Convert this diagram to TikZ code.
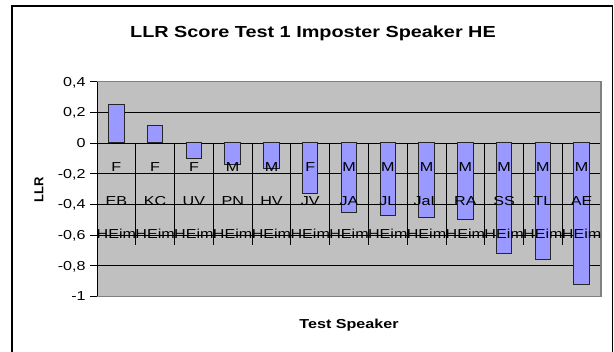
\documentclass[tikz,border=0pt]{standalone}
\usepackage{fontspec}
\setmainfont[FakeStretch=1.24]{Liberation Sans}
\newfontfamily\axisfont{Liberation Sans}
\definecolor{plotgray}{HTML}{C0C0C0}
\definecolor{barblue}{HTML}{9999FF}
\definecolor{edgegray}{HTML}{808080}

\begin{document}
\begin{tikzpicture}[x=1pt,y=-1pt,line width=0.8pt,
  ticklabel/.style={anchor=east,inner sep=0pt,text height=9pt,text depth=0pt,
    font=\fontsize{13}{15}\selectfont},
  catlabel/.style={anchor=base,inner sep=0pt,font=\fontsize{13}{15}\selectfont},
  llrbar/.style={fill=barblue,draw=black!85,line width=1pt}]
\useasboundingbox (0,0) rectangle (614,352);
\fill[white] (0,0) rectangle (614,352);
\draw[line width=1.5pt] (12,6) rectangle (612.5,358);
% plot area
\fill[plotgray] (97,81.6) rectangle (601,296.5);
\foreach \v in {0.2,-0.2,-0.4,-0.6,-0.8}
  \draw (97,{143-153.5*(\v)}) -- (601,{143-153.5*(\v)});
\foreach \k in {0,...,13}
  \draw (97+38.77*\k,143) -- (97+38.77*\k,245);
\draw (97,143) -- (601,143);
% bars
\foreach \i/\name/\sex/\val in {1/EB/F/0.254, 2/KC/F/0.117, 3/UV/F/-0.098,
    4/PN/M/-0.143, 5/HV/M/-0.163, 6/JV/F/-0.326, 7/JA/M/-0.45,
    8/JL/M/-0.475, 9/JaL/M/-0.484, 10/RA/M/-0.497, 11/SS/M/-0.719,
    12/TL/M/-0.758, 13/AE/M/-0.92}{
  \pgfmathsetmacro\cx{97+38.77*(\i-0.5)}
  \draw[llrbar] (\cx-7.75,143) rectangle (\cx+7.75,{143-153.5*(\val)});
}
\draw[edgegray,line width=1.2pt] (97,81.6) -- (601,81.6) -- (601,296.5) -- (97,296.5);
% axis
\draw (97,81.6) -- (97,296.5);
\foreach \v/\t in {0.4/{0,4}, 0.2/{0,2}, 0/0, -0.2/{-0,2}, -0.4/{-0,4},
    -0.6/{-0,6}, -0.8/{-0,8}, -1/-1}{
  \draw (90,{143-153.5*(\v)}) -- (97,{143-153.5*(\v)});
  \node[ticklabel] at (86,{143-153.5*(\v)}) {\t};
}
% category labels
\foreach \i/\name/\sex in {1/EB/F, 2/KC/F, 3/UV/F, 4/PN/M, 5/HV/M, 6/JV/F,
    7/JA/M, 8/JL/M, 9/JaL/M, 10/RA/M, 11/SS/M, 12/TL/M, 13/AE/M}{
  \pgfmathsetmacro\cx{97+38.77*(\i-0.5)}
  \node[catlabel] (sex\i) at (\cx,172) {\sex};
  \node[catlabel] (name\i) at (\cx,206) {\name};
  \node[catlabel] (grp\i) at (\cx,239) {HEim};
}
% titles
\node[anchor=base,inner sep=0pt,font=\fontsize{16}{18}\selectfont\bfseries]
  (title) at (313,38) {LLR Score Test 1 Imposter Speaker HE};
\node[anchor=base,inner sep=0pt,font=\fontsize{13}{15}\selectfont\bfseries]
  (xtitle) at (349,329) {Test Speaker};
\node[rotate=90,inner sep=0pt,font=\axisfont\fontsize{13}{15}\selectfont\bfseries]
  (ytitle) at (39,190) {LLR};
\end{tikzpicture}
\end{document}
